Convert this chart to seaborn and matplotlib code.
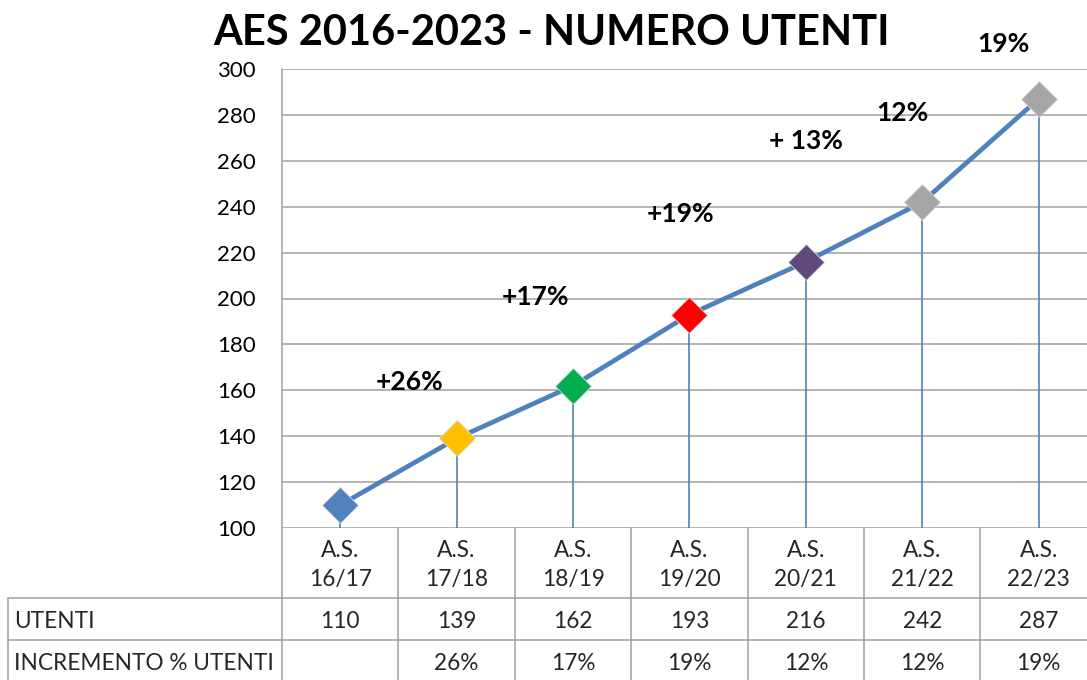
import matplotlib
matplotlib.use("Agg")
import matplotlib.pyplot as plt
import seaborn as sns
import pandas as pd
from matplotlib.lines import Line2D
import matplotlib.transforms as mtransforms

# ---- data ----
categories = ["A.S.\n16/17", "A.S.\n17/18", "A.S.\n18/19", "A.S.\n19/20",
              "A.S.\n20/21", "A.S.\n21/22", "A.S.\n22/23"]
utenti = [110, 139, 162, 193, 216, 242, 287]
incremento = ["", "26%", "17%", "19%", "12%", "12%", "19%"]
row_labels = ["UTENTI", "INCREMENTO % UTENTI"]
chart_labels = ["+26%", "+17%", "+19%", "+ 13%", "12%", "19%"]
marker_colors = ["#4F81BD", "#FFC000", "#00B050", "#FF0000", "#604A7B", "#A6A6A6", "#A6A6A6"]
title = "AES 2016-2023 - NUMERO UTENTI"
y_ticks = [100, 120, 140, 160, 180, 200, 220, 240, 260, 280, 300]

sns.set_theme(style="white")
plt.rcParams["font.family"] = ["Lato", "DejaVu Sans"]

W, H = 1087, 680
fig = plt.figure(figsize=(W / 100, H / 100), dpi=100)
ax = fig.add_axes([282 / W, 1 - 528 / H, 805 / W, (528 - 69) / H])

df = pd.DataFrame({"x": range(len(categories)), "cat": categories, "utenti": utenti})

grid_c = "#A0A0A0"
for t in y_ticks:
    ax.axhline(t, color=grid_c, lw=1.1, zorder=0)

# drop lines
ax.vlines(df["x"], y_ticks[0], df["utenti"], color="#4F81BD", lw=1.2, zorder=1)

sns.lineplot(data=df, x="x", y="utenti", ax=ax, color="#4F81BD", lw=3.4, zorder=2)
for i, row in df.iterrows():
    ax.plot(row["x"], row["utenti"], marker="D", markersize=18, color=marker_colors[i],
            markeredgecolor="#D8D8D8", markeredgewidth=0.6, zorder=3, linestyle="none")

ax.set_xlim(-0.5, 6.415)
ax.set_ylim(y_ticks[0], y_ticks[-1])
ax.set_yticks(y_ticks)
ax.set_xticks([])
ax.set_xlabel("")
ax.set_ylabel("")
ax.tick_params(axis="y", length=0, pad=19, labelsize=16, colors="#000000")
for s in ["top", "right", "bottom"]:
    ax.spines[s].set_visible(False)
ax.spines["left"].set_color(grid_c)
ax.spines["left"].set_linewidth(1.1)

# annotations (percentage increments above points)
label_pos = [(0.60, 163.6), (1.675, 200.7), (2.92, 236.8), (4.0, 268.6), (4.83, 280.8), (5.70, 310.9)]
for (lx, ly), lab in zip(label_pos, chart_labels):
    ax.text(lx, ly, lab, ha="center", va="center", fontsize=19, fontweight="bold",
            color="#000000", clip_on=False)

fig.text(551 / W, 1 - 33 / H, title, ha="center", va="center", fontsize=30,
         fontweight="bold", color="#000000")

# ---- data table below ----
trans = mtransforms.blended_transform_factory(ax.transData, fig.transFigure)
def fy(py):
    return 1 - py / H

line_kw = dict(color=grid_c, lw=1.1, transform=fig.transFigure, clip_on=False)
n = len(categories)
# vertical column boundaries
for k in range(n + 1):
    xd = -0.5 + k
    xf = fig.transFigure.inverted().transform(ax.transData.transform((xd, 0)))[0]
    fig.add_artist(Line2D([xf, xf], [fy(528), fy(680)], **line_kw))
fig.add_artist(Line2D([8 / W, 8 / W], [fy(598), fy(680)], **line_kw))
for py in (598, 640):
    fig.add_artist(Line2D([8 / W, 1.0], [fy(py), fy(py)], **line_kw))

fs = 16.3
for i in range(n):
    ax.text(i, fy(565), categories[i], transform=trans, ha="center", va="center",
            fontsize=fs, linespacing=1.5, clip_on=False)
    ax.text(i, fy(621), str(utenti[i]), transform=trans, ha="center", va="center",
            fontsize=fs, clip_on=False)
    ax.text(i, fy(663), incremento[i], transform=trans, ha="center", va="center",
            fontsize=fs, clip_on=False)

fig.text(14 / W, fy(621), row_labels[0], ha="left", va="center", fontsize=fs)
fig.text(14 / W, fy(663), row_labels[1], ha="left", va="center", fontsize=fs)

fig.savefig("out.png", dpi=100)
